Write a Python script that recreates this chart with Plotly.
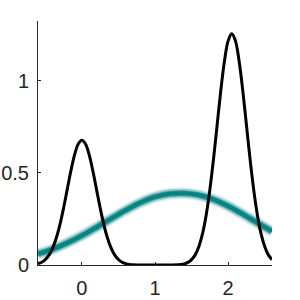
import plotly.graph_objects as go

# Black density curve
x_black = [round(-0.6 + 0.05 * i, 2) for i in range(65)]
y_black = [0.0075, 0.015, 0.030, 0.054, 0.092, 0.147, 0.220, 0.310, 0.411, 0.512,
           0.598, 0.657, 0.678, 0.657, 0.598, 0.512, 0.411, 0.310, 0.220, 0.147,
           0.092, 0.054, 0.030, 0.015, 0.0075, 0.0034, 0.0015, 0.0006, 0.0002, 0.0,
           0.0, 0.0, 0.0, 0.0, 0.0, 0.0, 0.0, 0.0004, 0.0011, 0.0028,
           0.0064, 0.014, 0.029, 0.055, 0.100, 0.170, 0.272, 0.408, 0.575, 0.762,
           0.949, 1.109, 1.218, 1.257, 1.218, 1.109, 0.949, 0.762, 0.575, 0.408,
           0.272, 0.170, 0.100, 0.055, 0.029]

# Teal band curve
x_teal = [-0.6, -0.4, -0.2, 0.0, 0.2, 0.4, 0.6, 0.8, 1.0, 1.2, 1.4, 1.6, 1.8, 2.0, 2.2, 2.4, 2.6]
y_teal = [0.060, 0.086, 0.120, 0.160, 0.205, 0.252, 0.298, 0.339, 0.370, 0.387, 0.390,
          0.380, 0.356, 0.320, 0.276, 0.229, 0.183]

x_ticks = [0, 1, 2]
y_ticks = [0, 0.5, 1]
y_tick_text = ["0", "0.5", "1"]

fig = go.Figure()
for w, c in [(12, "rgba(0,128,128,0.12)"), (9, "rgba(0,128,128,0.3)"),
             (6, "rgba(0,128,128,0.6)"), (4, "rgba(0,128,128,0.9)")]:
    fig.add_trace(go.Scatter(x=x_teal, y=y_teal, mode="lines",
                             line=dict(color=c, width=w, shape="spline"),
                             hoverinfo="skip", showlegend=False))
fig.add_trace(go.Scatter(x=x_black, y=y_black, mode="lines",
                         line=dict(color="black", width=3, shape="spline"),
                         showlegend=False))

axis_common = dict(showline=True, linecolor="#262626", linewidth=1,
                   ticks="inside", ticklen=3, tickcolor="#262626",
                   showgrid=False, zeroline=False, automargin=False,
                   tickfont=dict(family="Liberation Sans, Arial", size=20, color="#262626"))
fig.update_layout(
    width=300, height=300,
    margin=dict(l=38, r=28, t=21, b=35),
    paper_bgcolor="white", plot_bgcolor="white",
    xaxis=dict(range=[-0.6, 2.6], tickvals=x_ticks, ticklabelstandoff=5, **axis_common),
    yaxis=dict(range=[0, 1.326], tickvals=y_ticks, ticktext=y_tick_text,
               ticklabelstandoff=4, **axis_common),
)
fig.write_html("out.html", config={"displayModeBar": False},
               post_script="document.body.style.margin='0';")
